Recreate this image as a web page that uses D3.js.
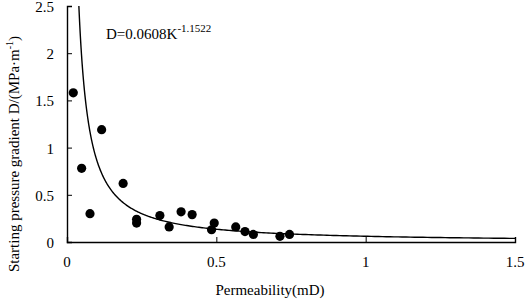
<!DOCTYPE html>
<meta charset="utf-8">
<script src="https://d3js.org/d3.v7.min.js"></script>
<style>
body { margin: 0; background: #fff; }
#chart text { font-family: "Liberation Serif", "Times New Roman", serif; fill: #000; }
</style>
<div id="chart"></div>
<script>
// measured points, permeability (mD) vs starting pressure gradient
var perm = [0.021, 0.049, 0.077, 0.116, 0.188, 0.233, 0.233, 0.311, 0.342, 0.382, 0.419, 0.484, 0.493, 0.565, 0.596, 0.624, 0.713, 0.745];
var grad = [1.58, 0.78, 0.30, 1.19, 0.62, 0.24, 0.20, 0.28, 0.16, 0.32, 0.29, 0.13, 0.20, 0.16, 0.11, 0.08, 0.06, 0.08];
var xTicks = [0, 0.5, 1, 1.5];
var yTicks = [0, 0.5, 1, 1.5, 2, 2.5];
// fitted power law shown on the chart: D = a * K^b
var fitA = 0.0608, fitB = -1.1522;

var W = 526, H = 300;
var margin = { top: 6, right: 11, bottom: 58, left: 67 };

var svg = d3.select("#chart").append("svg")
  .attr("width", W).attr("height", H);

var x = d3.scaleLinear().domain([0, 1.5]).range([margin.left, W - margin.right]);
var y = d3.scaleLinear().domain([0, 2.5]).range([H - margin.bottom, margin.top]);

// x axis, ticks pointing inward
var gx = svg.append("g")
  .attr("transform", "translate(0," + y(0) + ")")
  .call(d3.axisTop(x).tickValues(xTicks).tickSize(5).tickFormat(""));
gx.select(".domain").attr("stroke-width", 1.4);
gx.selectAll(".tick").filter(function(d) { return d === 0; }).remove();

svg.append("g").selectAll("text").data(xTicks).enter().append("text")
  .attr("x", function(d) { return x(d); })
  .attr("y", y(0) + 25)
  .attr("text-anchor", "middle")
  .style("font-size", "15px")
  .text(function(d) { return d; });

// y axis
var gy = svg.append("g")
  .attr("transform", "translate(" + x(0) + ",0)")
  .call(d3.axisRight(y).tickValues(yTicks).tickSize(5).tickFormat(""));
gy.select(".domain").attr("stroke-width", 1.4);
gy.selectAll(".tick").filter(function(d) { return d === 0; }).remove();

svg.append("g").selectAll("text").data(yTicks).enter().append("text")
  .attr("x", x(0) - 13)
  .attr("y", function(d) { return y(d) + 6; })
  .attr("text-anchor", "end")
  .style("font-size", "15px")
  .text(function(d) { return d; });

// trend curve from the fitted equation
var kStart = Math.pow(2.5 / fitA, 1 / fitB);
var curve = d3.range(0, 301).map(function(i) {
  var k = kStart * Math.pow(1.5 / kStart, i / 300);
  return [k, fitA * Math.pow(k, fitB)];
});
svg.append("path")
  .datum(curve)
  .attr("fill", "none")
  .attr("stroke", "#000")
  .attr("stroke-width", 1.4)
  .attr("d", d3.line().x(function(d) { return x(d[0]); }).y(function(d) { return y(d[1]); }));

// points
svg.append("g").selectAll("circle").data(perm).enter().append("circle")
  .attr("cx", function(d) { return x(d); })
  .attr("cy", function(d, i) { return y(grad[i]); })
  .attr("r", 4.6)
  .attr("fill", "#000");

// equation label
var eq = svg.append("text")
  .attr("x", 106).attr("y", 39)
  .style("font-size", "15px");
eq.append("tspan").text("D=0.0608K");
eq.append("tspan").attr("dy", -7).style("font-size", "11px").text("-1.1522");

// axis titles
svg.append("text")
  .attr("x", 270).attr("y", 295)
  .attr("text-anchor", "middle")
  .style("font-size", "15px")
  .text("Permeability(mD)");

var yt = svg.append("text")
  .attr("transform", "translate(19," + 154 + ") rotate(-90)")
  .attr("text-anchor", "middle")
  .style("font-size", "15px");
yt.append("tspan").text("Starting pressure gradient D/(MPa\u00b7m");
yt.append("tspan").attr("dy", -6).style("font-size", "10px").text("-1");
yt.append("tspan").attr("dy", 6).text(")");
</script>
